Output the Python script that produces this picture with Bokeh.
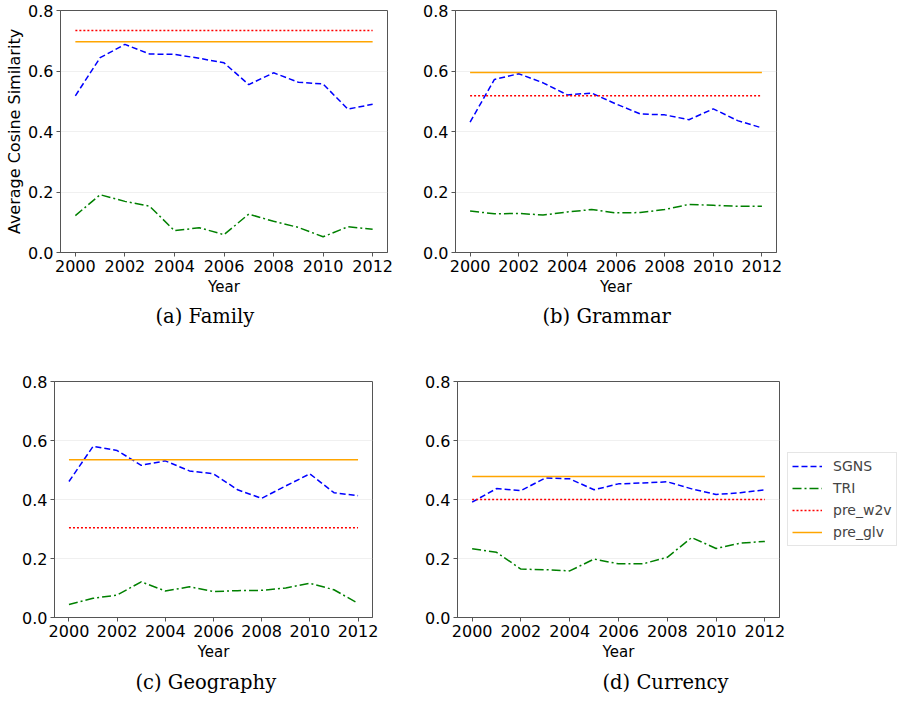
from bokeh.plotting import figure
from bokeh.layouts import column, row
from bokeh.models import FixedTicker, NumeralTickFormatter, Title, Legend, LegendItem, Range1d, Spacer
from bokeh.embed import file_html
from bokeh.resources import INLINE

years = list(range(2000, 2013))
year_ticks = [2000, 2002, 2004, 2006, 2008, 2010, 2012]
y_ticks = [0.0, 0.2, 0.4, 0.6, 0.8]

family_sgns = [0.518, 0.644, 0.688, 0.656, 0.655, 0.642, 0.627, 0.555, 0.594, 0.563, 0.557, 0.474, 0.490]
family_tri = [0.122, 0.191, 0.169, 0.153, 0.072, 0.082, 0.059, 0.127, 0.103, 0.083, 0.052, 0.085, 0.077]
family_pre_w2v = 0.734
family_pre_glv = 0.697

grammar_sgns = [0.431, 0.572, 0.591, 0.561, 0.521, 0.527, 0.491, 0.458, 0.455, 0.439, 0.475, 0.436, 0.412]
grammar_tri = [0.137, 0.128, 0.129, 0.124, 0.134, 0.142, 0.131, 0.132, 0.142, 0.159, 0.156, 0.153, 0.153]
grammar_pre_w2v = 0.518
grammar_pre_glv = 0.595

geography_sgns = [0.461, 0.580, 0.566, 0.516, 0.531, 0.497, 0.487, 0.433, 0.404, 0.446, 0.487, 0.423, 0.413]
geography_tri = [0.044, 0.065, 0.076, 0.121, 0.090, 0.104, 0.088, 0.091, 0.092, 0.100, 0.116, 0.094, 0.048]
geography_pre_w2v = 0.304
geography_pre_glv = 0.535

currency_sgns = [0.391, 0.437, 0.430, 0.473, 0.470, 0.433, 0.453, 0.456, 0.460, 0.436, 0.417, 0.423, 0.433]
currency_tri = [0.233, 0.221, 0.164, 0.162, 0.158, 0.198, 0.182, 0.182, 0.204, 0.271, 0.234, 0.252, 0.258]
currency_pre_w2v = 0.400
currency_pre_glv = 0.478

series_names = ["SGNS", "TRI", "pre_w2v", "pre_glv"]

SANS = "DejaVu Sans"
SERIF = "DejaVu Serif"
SPINE = "#555555"

STYLES = [
    dict(line_color="blue", line_width=1.5, line_dash="6 3"),
    dict(line_color="green", line_width=1.5, line_dash="9 3 2 3"),
    dict(line_color="red", line_width=1.5, line_dash="2 2"),
    dict(line_color="orange", line_width=1.5),
]


def draw_series(p, sgns, tri, w2v, glv):
    return [
        p.line(years, sgns, **STYLES[0]),
        p.line(years, tri, **STYLES[1]),
        p.line([years[0], years[-1]], [w2v, w2v], **STYLES[2]),
        p.line([years[0], years[-1]], [glv, glv], **STYLES[3]),
    ]


def make_panel(sgns, tri, w2v, glv, caption, width, height, mbl, mbr, mbt, mbb,
               cap_offset, cap_standoff, ylabel=None):
    p = figure(width=width, height=height, output_backend="svg", toolbar_location=None,
               x_range=Range1d(1999.4, 2012.6), y_range=Range1d(0.0, 0.8),
               min_border_left=mbl, min_border_right=mbr,
               min_border_top=mbt, min_border_bottom=mbb)
    p.background_fill_color = "white"
    p.border_fill_color = "white"
    p.outline_line_color = SPINE
    p.outline_line_width = 1

    draw_series(p, sgns, tri, w2v, glv)

    p.xaxis.ticker = FixedTicker(ticks=year_ticks)
    p.yaxis.ticker = FixedTicker(ticks=y_ticks)
    p.yaxis.formatter = NumeralTickFormatter(format="0.0")
    for ax in (p.xaxis[0], p.yaxis[0]):
        ax.axis_line_color = SPINE
        ax.major_tick_line_color = SPINE
        ax.minor_tick_line_color = None
        ax.major_tick_out = 4
        ax.major_tick_in = 0
        ax.major_label_standoff = 3
        ax.major_label_text_font = SANS
        ax.major_label_text_font_size = "16px"
        ax.major_label_text_color = "black"
        ax.axis_label_text_font = SANS
        ax.axis_label_text_font_size = "15px"
        ax.axis_label_text_font_style = "normal"
        ax.axis_label_text_color = "black"
        ax.axis_label_standoff = 3
    p.xaxis.axis_label = "Year"
    if ylabel:
        p.yaxis.axis_label = ylabel
        p.yaxis.axis_label_text_font_size = "16px"
        p.yaxis.axis_label_standoff = 1

    p.xgrid.grid_line_color = None
    p.ygrid.grid_line_color = "#e6e6e6"
    p.ygrid.grid_line_alpha = 0.6
    p.ygrid.grid_line_width = 1

    p.add_layout(Title(text=caption, align="left", vertical_align="top",
                       offset=cap_offset, standoff=cap_standoff,
                       text_font=SERIF, text_font_size="19.5px", text_font_style="normal",
                       text_color="black"), "below")
    return p


def make_legend_panel(width, height):
    # legend-only canvas: the series are drawn outside its (unit) range so only the key shows
    p = figure(width=width, height=height, output_backend="svg", toolbar_location=None,
               x_axis_location=None, y_axis_location=None,
               x_range=Range1d(0, 1), y_range=Range1d(0, 1),
               min_border_left=0, min_border_right=0, min_border_top=0, min_border_bottom=0)
    p.outline_line_color = None
    p.grid.grid_line_color = None
    p.background_fill_color = "white"
    p.border_fill_color = "white"
    rends = draw_series(p, currency_sgns, currency_tri, currency_pre_w2v, currency_pre_glv)
    items = [LegendItem(label=n, renderers=[r]) for n, r in zip(series_names, rends)]
    lg = Legend(items=items, location="top_left", margin=0, padding=4,
                glyph_width=30, glyph_height=18, label_height=18, spacing=4,
                label_standoff=11, label_text_font=SANS, label_text_font_size="14px",
                border_line_color="#cccccc", border_line_width=1,
                background_fill_color="white", background_fill_alpha=1.0)
    p.add_layout(lg, "center")
    return p


pa = make_panel(family_sgns, family_tri, family_pre_w2v, family_pre_glv, "(a) Family",
                420, 350, 60, 33, 10, 98, 95, 13, ylabel="Average Cosine Similarity")
pb = make_panel(grammar_sgns, grammar_tri, grammar_pre_w2v, grammar_pre_glv, "(b) Grammar",
                400, 350, 32, 44, 10, 98, 87, 13)
pc = make_panel(geography_sgns, geography_tri, geography_pre_w2v, geography_pre_glv, "(c) Geography",
                420, 355, 54, 48, 31, 86, 81, 15)
pd = make_panel(currency_sgns, currency_tri, currency_pre_w2v, currency_pre_glv, "(d) Currency",
                367, 355, 37, 8, 27, 88, 145, 15)
pl = make_legend_panel(112, 253)

layout = column(row(pa, pb), row(pc, pd, column(Spacer(width=112, height=102), pl)))

open("out.html", "w").write(file_html(layout, INLINE))
